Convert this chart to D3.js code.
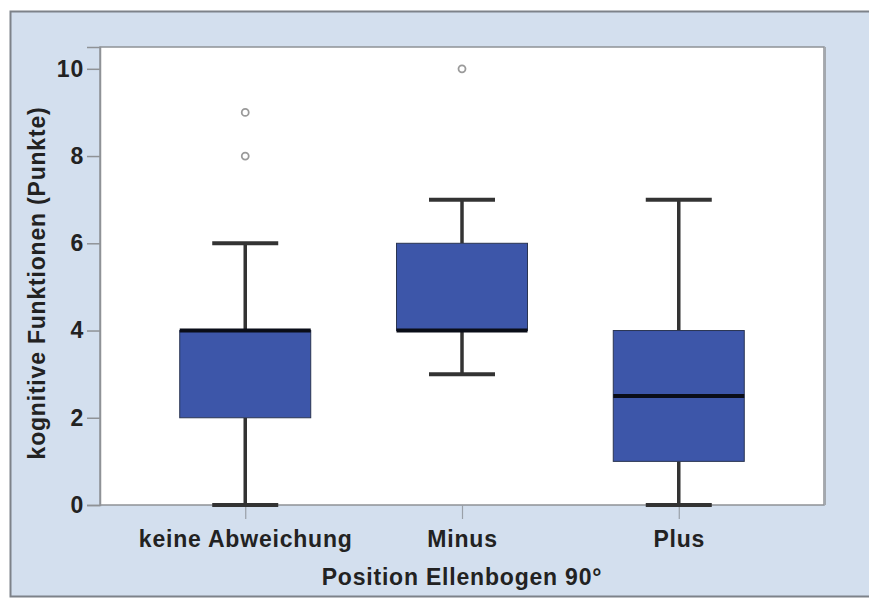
<!DOCTYPE html>
<html>
<head>
<meta charset="utf-8">
<script src="https://cdn.jsdelivr.net/npm/d3@7"></script>
<style>
  html, body { margin: 0; padding: 0; background: #ffffff; }
  svg { display: block; }
  text { font-family: "Liberation Sans", Arial, sans-serif; font-weight: bold; fill: #222; letter-spacing: 0.8px; }
</style>
</head>
<body>
<script>
// Box plot: kognitive Funktionen by elbow position
const categories = ["keine Abweichung", "Minus", "Plus"];
const whiskerLow  = [0, 3, 0];
const q1          = [2, 4, 1];
const medians     = [4, 4, 2.5];
const q3          = [4, 6, 4];
const whiskerHigh = [6, 7, 7];
const outliers    = [[8, 9], [10], []];
const yTicks      = [0, 2, 4, 6, 8, 10];

const W = 869, H = 599;
const plot = { left: 100, right: 824, top: 47, bottom: 505 };
const fontSize = 23;

const svg = d3.select("body").append("svg").attr("width", W).attr("height", H);

// outer panel
svg.append("rect").attr("x", 10).attr("y", 11).attr("width", W - 10).attr("height", 586)
  .attr("fill", "#d3dfee");
svg.append("path").attr("d", `M${W},11.5 H10.5 V596.5 H${W}`)
  .attr("fill", "none").attr("stroke", "#7d8289").attr("stroke-width", 2);

// plot area
svg.append("rect").attr("x", plot.left).attr("y", plot.top)
  .attr("width", plot.right - plot.left).attr("height", plot.bottom - plot.top)
  .attr("fill", "#ffffff").attr("stroke", "#8f9296").attr("stroke-width", 1.5);
svg.append("line").attr("x1", plot.right + 1).attr("x2", plot.right + 1)
  .attr("y1", plot.top).attr("y2", plot.bottom)
  .attr("stroke", "#a3a8ae").attr("stroke-width", 2);

const x = d3.scalePoint().domain(categories).range([plot.left, plot.right]).padding(0.67);
const y = d3.scaleLinear().domain([0, 10.5]).range([plot.bottom, plot.top]);

// y axis
const yAxis = svg.append("g").attr("transform", `translate(${plot.left},0)`)
  .call(d3.axisLeft(y).tickValues(yTicks).tickFormat(d3.format("d")).tickSize(13).tickPadding(3));
yAxis.select(".domain").attr("stroke", "#8f9296").attr("stroke-width", 1.5);
yAxis.selectAll(".tick line").attr("stroke", "#8f9296").attr("stroke-width", 1.5);
yAxis.selectAll(".tick text").attr("font-size", fontSize).attr("font-weight", "bold")
  .attr("font-family", "'Liberation Sans', Arial, sans-serif").attr("fill", "#222");

// x axis
const xAxis = svg.append("g").attr("transform", `translate(0,${plot.bottom})`)
  .call(d3.axisBottom(x).tickSize(14).tickPadding(12));
xAxis.select(".domain").remove();
xAxis.selectAll(".tick line").attr("stroke", "#9aa0a8").attr("stroke-width", 1.2);
xAxis.selectAll(".tick text").attr("font-size", fontSize).attr("font-weight", "bold")
  .attr("font-family", "'Liberation Sans', Arial, sans-serif").attr("fill", "#222");

// axis titles
svg.append("text").attr("x", (plot.left + plot.right) / 2).attr("y", 585)
  .attr("text-anchor", "middle").attr("font-size", fontSize).text("Position Ellenbogen 90°");
svg.append("text").attr("transform", "translate(45,283) rotate(-90)")
  .attr("text-anchor", "middle").attr("font-size", fontSize).text("kognitive Funktionen (Punkte)");

// boxes
const boxW = 131, capW = 66;
const data = categories.map((c, i) => ({
  c, lo: whiskerLow[i], q1: q1[i], med: medians[i], q3: q3[i], hi: whiskerHigh[i], out: outliers[i]
}));
const g = svg.append("g");
data.forEach(d => {
  const cx = x(d.c);
  // whiskers
  g.append("line").attr("x1", cx).attr("x2", cx).attr("y1", y(d.hi)).attr("y2", y(d.q3))
    .attr("stroke", "#333").attr("stroke-width", 3.5);
  g.append("line").attr("x1", cx).attr("x2", cx).attr("y1", y(d.q1)).attr("y2", y(d.lo))
    .attr("stroke", "#333").attr("stroke-width", 3.5);
  [d.hi, d.lo].forEach(v => {
    g.append("line").attr("x1", cx - capW / 2).attr("x2", cx + capW / 2)
      .attr("y1", y(v)).attr("y2", y(v)).attr("stroke", "#333").attr("stroke-width", 4);
  });
  // box
  g.append("rect").attr("x", cx - boxW / 2).attr("y", y(d.q3))
    .attr("width", boxW).attr("height", y(d.q1) - y(d.q3))
    .attr("fill", "#3d56a9").attr("stroke", "#2a3552").attr("stroke-width", 1);
  // median
  g.append("line").attr("x1", cx - boxW / 2).attr("x2", cx + boxW / 2)
    .attr("y1", y(d.med)).attr("y2", y(d.med)).attr("stroke", "#0a0d18").attr("stroke-width", 4);
  // outliers
  d.out.forEach(v => {
    g.append("circle").attr("cx", cx).attr("cy", y(v)).attr("r", 3.5)
      .attr("fill", "#fff").attr("stroke", "#9a9a9a").attr("stroke-width", 1.8);
  });
});
</script>
</body>
</html>
